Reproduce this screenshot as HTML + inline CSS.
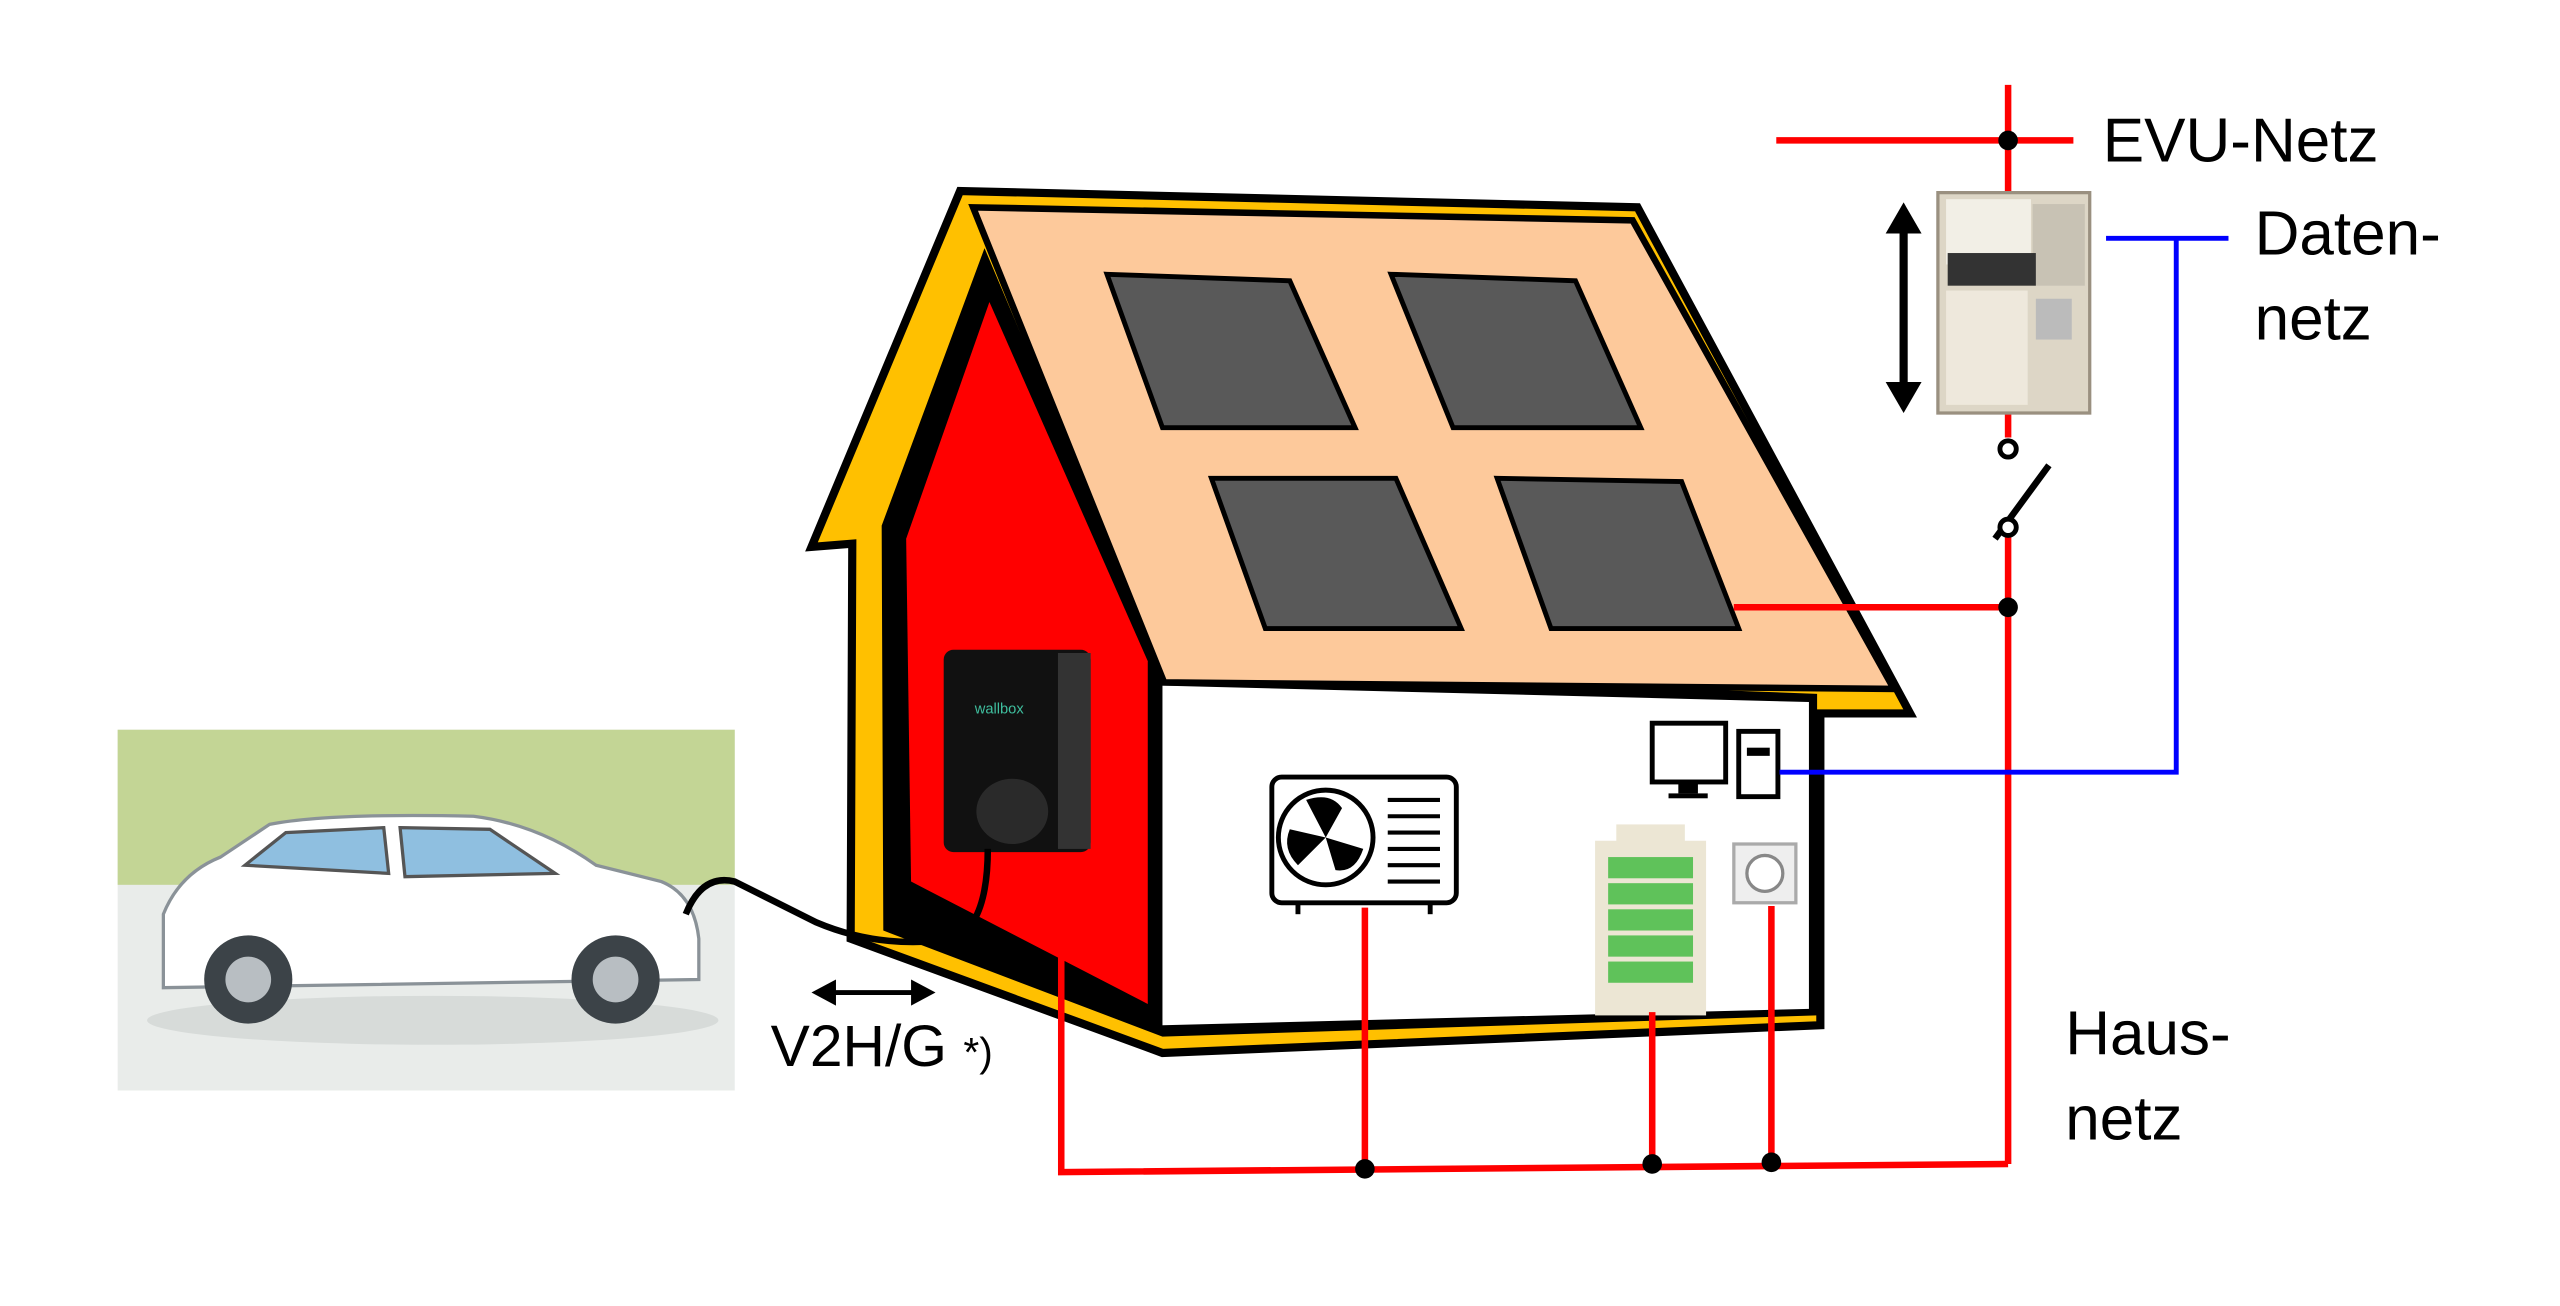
<!DOCTYPE html>
<html><head><meta charset="utf-8"><style>
html,body{margin:0;padding:0;background:#fff;}
svg{display:block}
text{font-family:"Liberation Sans",sans-serif;}
</style></head><body>
<svg width="2560" height="1306" viewBox="0 0 1568 800" xmlns="http://www.w3.org/2000/svg">
<rect width="1568" height="800" fill="#fff"/>
<!-- car image -->
<rect x="72" y="447" width="378" height="221" fill="#e9ecea"/>
<rect x="72" y="447" width="378" height="95" fill="#c3d595"/>
<ellipse cx="265" cy="625" rx="175" ry="15" fill="#d7dbd9"/>
<path d="M100,590 L100,560 Q110,535 135,525 L165,505 Q200,498 290,500 Q330,505 365,530 L405,540 Q425,548 428,575 L428,600 L100,605 Z" fill="#fff" stroke="#8a9298" stroke-width="2"/>
<path d="M150,530 L175,510 L235,507 L238,535 Z" fill="#8fbfe0" stroke="#555" stroke-width="2"/>
<path d="M245,507 L300,508 L340,535 L248,537 Z" fill="#8fbfe0" stroke="#555" stroke-width="2"/>
<circle cx="152" cy="600" r="27" fill="#3c4348"/><circle cx="152" cy="600" r="14" fill="#b8bec2"/>
<circle cx="377" cy="600" r="27" fill="#3c4348"/><circle cx="377" cy="600" r="14" fill="#b8bec2"/>
<!-- house -->
<polygon points="497,335 588,117 1003,127 1170,437 1115,437 1115,628 712,645 521,575 522,333" fill="#ffc000" stroke="#000" stroke-width="5"/>
<polygon points="540,322 603,152 712,410 1113,425 1113,622 712,635 541,570" fill="#000"/>
<polygon points="555,330 606,185 703,405 703,615 558,540" fill="#ff0000"/>
<polygon points="712,420 1108,430 1108,618 712,628" fill="#fff"/>
<polygon points="596,127 1000,135 1160,422 713,418" fill="#fdc99b" stroke="#000" stroke-width="4"/>
<g fill="#595959" stroke="#000" stroke-width="3">
<polygon points="678,168 790,172 830,262 712,262"/>
<polygon points="852,168 965,172 1005,262 890,262"/>
<polygon points="742,293 855,293 895,385 775,385"/>
<polygon points="917,293 1030,295 1065,385 950,385"/>
</g>
<!-- wallbox -->
<rect x="578" y="398" width="90" height="124" rx="6" fill="#111"/>
<rect x="648" y="400" width="20" height="120" fill="#333"/>
<text x="597" y="437" font-size="9" fill="#3fbf9f">wallbox</text>
<ellipse cx="620" cy="497" rx="22" ry="20" fill="#2a2a2a"/>
<!-- cable -->
<path d="M420,560 Q430,535 450,540 Q480,555 500,565 Q540,582 585,575 Q605,565 605,520" fill="none" stroke="#000" stroke-width="4"/>
<!-- arrows -->
<line x1="507" y1="608" x2="563" y2="608" stroke="#000" stroke-width="3"/>
<polygon points="497,608 512,600 512,616" fill="#000"/><polygon points="573,608 558,600 558,616" fill="#000"/>
<text x="472" y="653" font-size="36">V2H/G <tspan font-size="25">*)</tspan></text>
<!-- AC unit -->
<rect x="779" y="476" width="113" height="77" rx="6" fill="#fff" stroke="#000" stroke-width="3"/>
<circle cx="812" cy="513" r="29" fill="none" stroke="#000" stroke-width="3"/>
<path d="M812,513 L800,490 Q815,485 822,495 Z M812,513 L835,520 Q830,535 818,533 Z M812,513 L795,530 Q785,520 790,508 Z" fill="#000"/>
<g stroke="#000" stroke-width="2.5"><line x1="850" y1="490" x2="882" y2="490"/><line x1="850" y1="500" x2="882" y2="500"/><line x1="850" y1="510" x2="882" y2="510"/><line x1="850" y1="520" x2="882" y2="520"/><line x1="850" y1="530" x2="882" y2="530"/><line x1="850" y1="540" x2="882" y2="540"/></g>
<line x1="795" y1="553" x2="795" y2="560" stroke="#000" stroke-width="3"/><line x1="876" y1="553" x2="876" y2="560" stroke="#000" stroke-width="3"/>
<!-- battery -->
<rect x="990" y="505" width="42" height="12" fill="#ece6d4"/>
<rect x="977" y="515" width="68" height="107" fill="#ece6d4"/>
<g fill="#5fc25a"><rect x="985" y="525" width="52" height="13"/><rect x="985" y="541" width="52" height="13"/><rect x="985" y="557" width="52" height="13"/><rect x="985" y="573" width="52" height="13"/><rect x="985" y="589" width="52" height="13"/></g>
<!-- socket -->
<rect x="1062" y="517" width="38" height="36" fill="#eee" stroke="#aaa" stroke-width="2"/>
<circle cx="1081" cy="535" r="11" fill="#fff" stroke="#888" stroke-width="2"/>
<!-- computer -->
<rect x="1012" y="443" width="45" height="36" fill="#fff" stroke="#000" stroke-width="3"/>
<rect x="1028" y="480" width="12" height="6" fill="#000"/><rect x="1022" y="486" width="24" height="3" fill="#000"/>
<rect x="1065" y="448" width="24" height="40" fill="#fff" stroke="#000" stroke-width="3"/>
<rect x="1070" y="458" width="14" height="5" fill="#000"/>
<!-- red network -->
<g stroke="#ff0000" stroke-width="4" fill="none">
<line x1="1088" y1="86" x2="1270" y2="86"/>
<line x1="1230" y1="52" x2="1230" y2="120"/>
<line x1="1230" y1="253" x2="1230" y2="268"/>
<line x1="1230" y1="318" x2="1230" y2="713"/>
<line x1="1062" y1="372" x2="1230" y2="372"/>
<polyline points="650,575 650,718 1230,713"/>
<line x1="836" y1="556" x2="836" y2="716"/>
<line x1="1012" y1="620" x2="1012" y2="713"/>
<line x1="1085" y1="555" x2="1085" y2="712"/>
</g>
<g fill="#000"><circle cx="1230" cy="86" r="6"/><circle cx="1230" cy="372" r="6"/><circle cx="836" cy="716" r="6"/><circle cx="1012" cy="713" r="6"/><circle cx="1085" cy="712" r="6"/></g>
<circle cx="1230" cy="275" r="5" fill="#fff" stroke="#000" stroke-width="3"/>
<line x1="1222" y1="330" x2="1255" y2="285" stroke="#000" stroke-width="4"/>
<circle cx="1230" cy="323" r="5" fill="#fff" stroke="#000" stroke-width="3"/>
<!-- blue -->
<polyline points="1290,146 1365,146" stroke="#0000ff" stroke-width="3" fill="none"/>
<polyline points="1333,146 1333,473 1090,473" stroke="#0000ff" stroke-width="3" fill="none"/>
<!-- meter -->
<rect x="1187" y="118" width="93" height="135" fill="#ddd6c6" stroke="#9a9080" stroke-width="2"/>
<rect x="1192" y="122" width="52" height="40" fill="#f2efe6"/>
<rect x="1245" y="125" width="32" height="50" fill="#c8c2b4"/>
<rect x="1193" y="155" width="54" height="20" fill="#333"/>
<rect x="1192" y="178" width="50" height="70" fill="#eee8dc"/>
<rect x="1247" y="183" width="22" height="25" fill="#bbb"/>
<!-- black arrow -->
<line x1="1166" y1="138" x2="1166" y2="240" stroke="#000" stroke-width="5"/>
<polygon points="1166,124 1155,143 1177,143" fill="#000"/><polygon points="1166,253 1155,234 1177,234" fill="#000"/>
<!-- labels -->
<text x="1288" y="99" font-size="38">EVU-Netz</text>
<text x="1381" y="156" font-size="38">Daten-</text>
<text x="1381" y="208" font-size="38">netz</text>
<text x="1265" y="646" font-size="38">Haus-</text>
<text x="1265" y="698" font-size="38">netz</text>
</svg>
</body></html>
